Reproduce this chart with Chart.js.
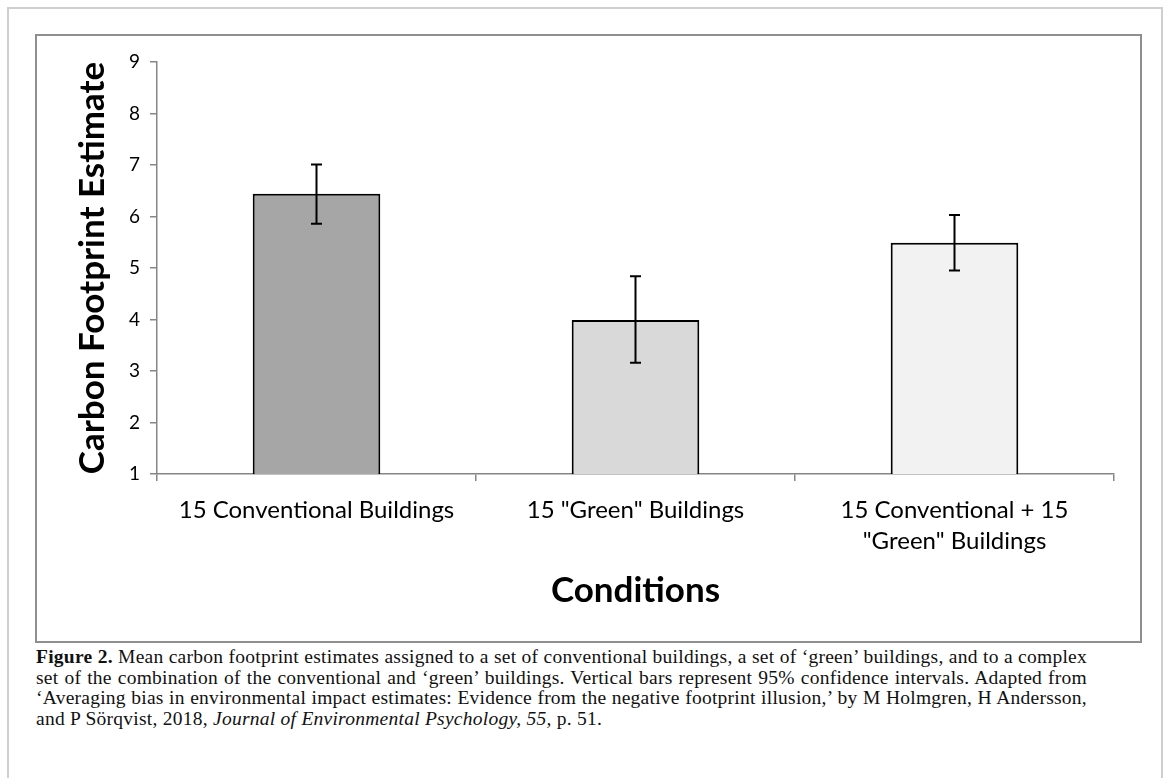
<!DOCTYPE html>
<html>
<head>
<meta charset="utf-8">
<script src="https://cdn.jsdelivr.net/npm/chart.js@4.4.0/dist/chart.umd.min.js"></script>
<style>
  body { margin: 0; background: #fff; width: 1168px; height: 778px; overflow: hidden; position: relative; }
  #outer { position: absolute; left: 7px; top: 7px; width: 1156px; height: 800px; border: 2px solid #cfcfcf; box-sizing: border-box; }
  #frame { position: absolute; left: 35px; top: 34px; width: 1107px; height: 609px; border: 2px solid #8f8f8f; box-sizing: border-box; }
  #wrap { position: absolute; left: 36px; top: 35px; width: 1105px; height: 607px; }
  #caption { position: absolute; left: 36px; top: 647px; width: 1051px; font-family: "Liberation Serif", "DejaVu Serif", serif; font-size: 19.5px; letter-spacing: 0.25px; line-height: 20.7px; color: #111; }
  #caption div { text-align: justify; text-align-last: justify; white-space: nowrap; }
  #caption div.last { text-align-last: left; }
</style>
</head>
<body>
<div id="outer"></div>
<div id="frame"></div>
<div id="wrap"><canvas id="chart" width="1105" height="607"></canvas></div>
<div id="caption">
  <div><b>Figure 2.</b> Mean carbon footprint estimates assigned to a set of conventional buildings, a set of ‘green’ buildings, and to a complex</div>
  <div>set of the combination of the conventional and ‘green’ buildings. Vertical bars represent 95% confidence intervals. Adapted from</div>
  <div>‘Averaging bias in environmental impact estimates: Evidence from the negative footprint illusion,’ by M Holmgren, H Andersson,</div>
  <div class="last">and P Sörqvist, 2018, <i>Journal of Environmental Psychology, 55,</i> p. 51.</div>
</div>
<script>
// chart data
const categories = [
    "15 Conventional Buildings",
    "15 \"Green\" Buildings",
    ["15 Conventional + 15", "\"Green\" Buildings"]
];
const means = [6.44, 3.99, 5.49];
const ciLow = [5.86, 3.16, 4.95];
const ciHigh = [7.01, 4.84, 6.03];
const barColors = ["#a6a6a6", "#d9d9d9", "#f2f2f2"];
const yTicks = [1, 2, 3, 4, 5, 6, 7, 8, 9];

const sans = "Lato, 'Open Sans', sans-serif";
const axisGray = "#868686";

// draws the 95% CI whiskers on top of each bar
const errorBars = {
    id: "errorBars",
    afterDatasetsDraw(chart) {
        const ctx = chart.ctx;
        const y = chart.scales.y;
        const meta = chart.getDatasetMeta(0);
        ctx.save();
        ctx.strokeStyle = "#000";
        ctx.lineWidth = 2;
        meta.data.forEach((bar, i) => {
            const top = y.getPixelForValue(ciHigh[i]);
            const bottom = y.getPixelForValue(ciLow[i]);
            const cap = 5.5;
            ctx.beginPath();
            ctx.moveTo(bar.x, top);
            ctx.lineTo(bar.x, bottom);
            ctx.moveTo(bar.x - cap, top);
            ctx.lineTo(bar.x + cap, top);
            ctx.moveTo(bar.x - cap, bottom);
            ctx.lineTo(bar.x + cap, bottom);
            ctx.stroke();
        });
        ctx.restore();
    }
};

new Chart(document.getElementById("chart").getContext("2d"), {
    type: "bar",
    data: {
        labels: categories,
        datasets: [{
            data: means,
            backgroundColor: barColors,
            borderColor: "#000",
            borderWidth: 2,
            borderSkipped: "bottom",
            categoryPercentage: 1.0,
            barPercentage: 0.4
        }]
    },
    options: {
        responsive: false,
        animation: false,
        devicePixelRatio: 1,
        layout: { padding: { top: 27, right: 27, left: 0, bottom: 0 } },
        plugins: {
            legend: { display: false },
            tooltip: { enabled: false }
        },
        scales: {
            x: {
                afterFit: s => { s.height = 168; },
                border: { color: axisGray, width: 1.5 },
                grid: { drawOnChartArea: false, drawTicks: true, tickLength: 7, color: axisGray, lineWidth: 1.5, offset: true },
                ticks: {
                    color: "#000",
                    font: { family: sans, size: 24, lineHeight: 1.29 },
                    padding: 14,
                    maxRotation: 0,
                    autoSkip: false
                },
                title: {
                    display: true,
                    text: "Conditions",
                    color: "#000",
                    font: { family: sans, size: 35, weight: "bold" },
                    padding: { top: 0, bottom: 30 }
                }
            },
            y: {
                min: 1,
                max: 9,
                afterFit: s => { s.width = 121; },
                afterBuildTicks: s => { s.ticks = yTicks.map(v => ({ value: v })); },
                border: { color: axisGray, width: 1.5 },
                grid: { drawOnChartArea: false, drawTicks: true, tickLength: 7, color: axisGray, lineWidth: 1.5 },
                ticks: {
                    color: "#000",
                    font: { family: sans, size: 19 },
                    padding: 10
                },
                title: {
                    display: true,
                    text: "Carbon Footprint Estimate",
                    color: "#000",
                    font: { family: sans, size: 35, weight: "bold" },
                    padding: { top: 36, bottom: 0 }
                }
            }
        }
    },
    plugins: [errorBars]
});
</script>
</body>
</html>
